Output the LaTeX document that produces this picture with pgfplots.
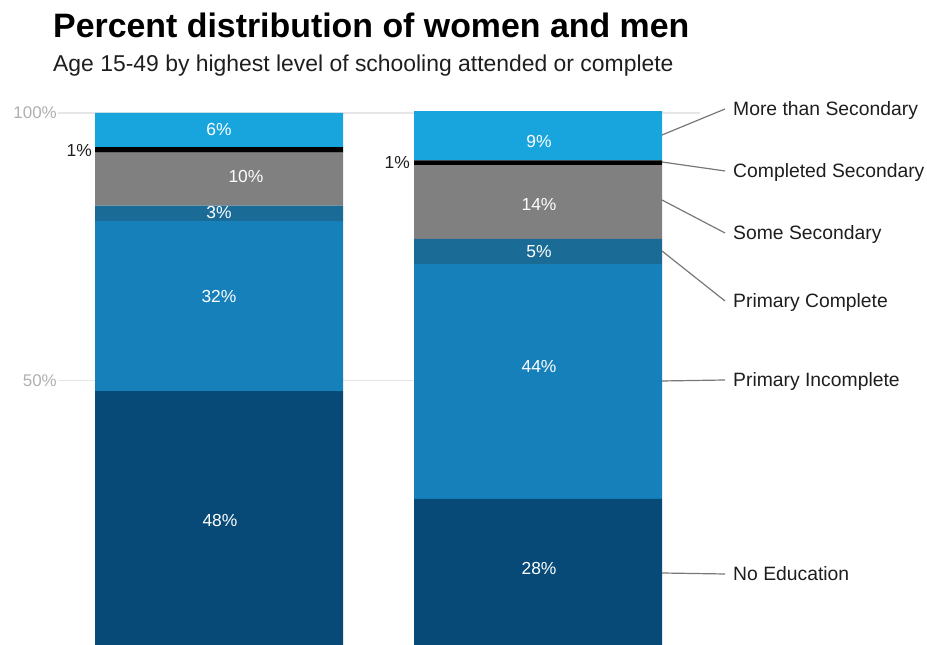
\documentclass[border=0pt]{standalone}
\usepackage{fontspec}
\setmainfont{Liberation Sans}
\usepackage{pgfplots}
\pgfplotsset{compat=1.18}
\definecolor{cMS}{RGB}{24,165,222}
\definecolor{cCS}{RGB}{0,0,0}
\definecolor{cSS}{RGB}{128,128,128}
\definecolor{cPC}{RGB}{26,107,150}
\definecolor{cPI}{RGB}{22,128,186}
\definecolor{cNE}{RGB}{7,74,119}
\definecolor{cGrid}{RGB}{230,230,230}
\definecolor{cTick}{RGB}{175,175,175}
\definecolor{cLead}{RGB}{120,120,120}
\definecolor{cTxt}{RGB}{30,30,30}
\begin{document}
\begin{tikzpicture}[x=1bp,y=1bp]
\useasboundingbox (0,0) rectangle (927,645);
\begin{axis}[
  at={(58bp,-3bp)}, anchor=south west,
  scale only axis, width=642bp, height=535bp,
  xmin=58, xmax=700, ymin=0, ymax=100,
  ybar stacked, bar width=248bp, bar shift=0pt,
  axis line style={draw=none},
  major tick length=0pt,
  xtick=\empty,
  ytick={50,100}, yticklabels={50\%,100\%},
  yticklabel style={font=\fontsize{17}{17}\selectfont, text=cTick, anchor=east, inner sep=0pt, xshift=-1bp},
  ymajorgrids, grid style={draw=cGrid, line width=1.5bp},
  clip=false,
]
\addplot[fill=cNE, draw=none] coordinates {(219,48.0) (538,27.85)};
\addplot[fill=cPI, draw=none] coordinates {(219,31.8) (538,43.9)};
\addplot[fill=cPC, draw=none] coordinates {(219,2.9) (538,4.7)};
\addplot[fill=cSS, draw=none] coordinates {(219,9.9) (538,13.8)};
\addplot[fill=cCS, draw=none] coordinates {(219,1.0) (538,0.9)};
\addplot[fill=cMS, draw=none] coordinates {(219,6.4) (538,9.2)};
\end{axis}
% title and subtitle
\node[anchor=base west, inner sep=0pt, font=\fontsize{34}{34}\selectfont\bfseries] at (53,645-38) {Percent distribution of women and men};
\node[anchor=base west, inner sep=0pt, text=cTxt, font=\fontsize{23}{23}\selectfont] at (53,645-72) {Age 15-49 by highest level of schooling attended or complete};
% bar labels
\begin{scope}[every node/.style={inner sep=0pt, text=white, font=\fontsize{17.5}{17.5}\selectfont}]
\node at (219,645-130) {6\%};
\node at (246,645-177) {10\%};
\node at (219,645-213) {3\%};
\node at (219,645-297) {32\%};
\node at (220,645-521) {48\%};
\node at (539,645-142) {9\%};
\node at (539,645-205) {14\%};
\node at (539,645-252) {5\%};
\node at (539,645-367) {44\%};
\node at (539,645-569) {28\%};
\end{scope}
\node[anchor=east, inner sep=0pt, text=cTxt, font=\fontsize{17.5}{17.5}\selectfont] at (92,645-151) {1\%};
\node[anchor=east, inner sep=0pt, text=cTxt, font=\fontsize{17.5}{17.5}\selectfont] at (410,645-163) {1\%};
% leader lines
\begin{scope}[draw=cLead, line width=1.2bp]
\draw (662,645-135) -- (725,645-109);
\draw (662,645-162) -- (725,645-171);
\draw (662,645-200) -- (725,645-233);
\draw (662,645-251) -- (725,645-301);
\draw (662,645-381) -- (725,645-380);
\draw (662,645-573) -- (725,645-574);
\end{scope}
\begin{scope}[every node/.style={anchor=base west, inner sep=0pt, text=cTxt, font=\fontsize{19.4}{19.4}\selectfont}]
\node at (733,645-116) {More than Secondary};
\node at (733,645-178) {Completed Secondary};
\node at (733,645-240) {Some Secondary};
\node at (733,645-308) {Primary Complete};
\node at (733,645-387) {Primary Incomplete};
\node at (733,645-581) {No Education};
\end{scope}
\end{tikzpicture}
\end{document}
